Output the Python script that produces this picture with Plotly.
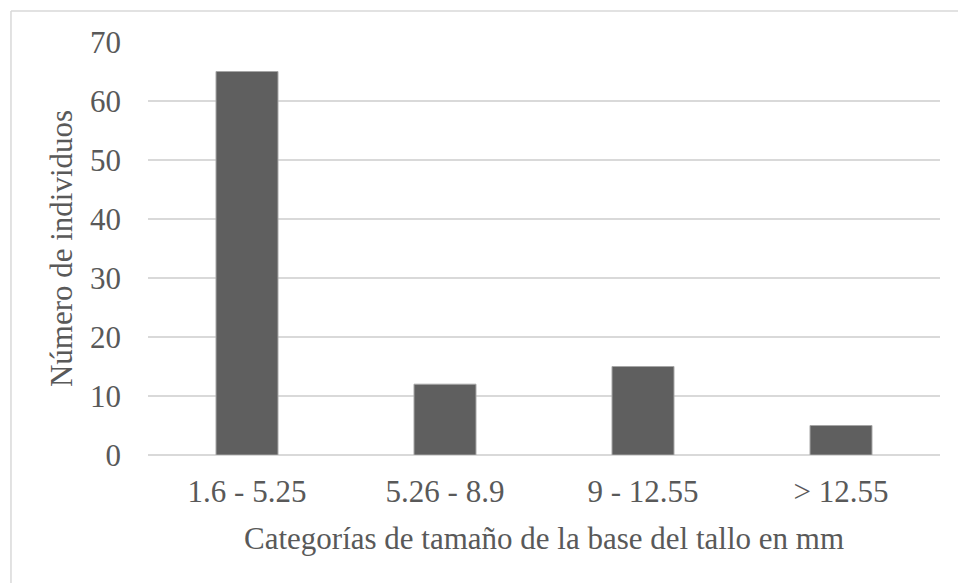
import plotly.graph_objects as go

categorias = ["1.6 - 5.25", "5.26 - 8.9", "9 - 12.55", "> 12.55"]
individuos = [65, 12, 15, 5]
y_ticks = [0, 10, 20, 30, 40, 50, 60, 70]

FONT = "Liberation Serif, Times New Roman, serif"
TEXT = "#595959"
FS = 31

fig = go.Figure(
    go.Bar(
        x=categorias,
        y=individuos,
        width=0.313,
        marker=dict(color="#5f5f5f", line=dict(color="#a6a6a6", width=1)),
    )
)

fig.update_layout(
    width=958,
    height=583,
    margin=dict(l=148, r=18, t=42, b=128),
    paper_bgcolor="white",
    plot_bgcolor="white",
    font=dict(family=FONT, size=FS, color=TEXT),
    showlegend=False,
    xaxis=dict(
        showline=False,
        ticks="",
        ticklabelstandoff=15,
        tickfont=dict(size=FS, color=TEXT),
        title=dict(text="Categorías de tamaño de la base del tallo en mm",
                   font=dict(size=FS, color=TEXT), standoff=19),
    ),
    yaxis=dict(
        range=[0, 70],
        tickvals=y_ticks,
        showgrid=True,
        gridcolor="#d9d9d9",
        gridwidth=1.5,
        zeroline=True,
        zerolinecolor="#d9d9d9",
        zerolinewidth=1.5,
        showline=False,
        ticks="",
        ticklabelstandoff=26,
        tickfont=dict(size=FS, color=TEXT),
        title=dict(text="Número de individuos",
                   font=dict(size=FS, color=TEXT), standoff=8),
    ),
    shapes=[
        # chart-area frame (top and left edges)
        dict(type="line", xref="paper", yref="paper",
             x0=-0.173, x1=1.1, y0=1.075, y1=1.075,
             line=dict(color="#d9d9d9", width=1.5)),
        dict(type="line", xref="paper", yref="paper",
             x0=-0.173, x1=-0.173, y0=1.075, y1=-0.5,
             line=dict(color="#d9d9d9", width=1.5)),
    ],
)

fig.write_html("out.html")
